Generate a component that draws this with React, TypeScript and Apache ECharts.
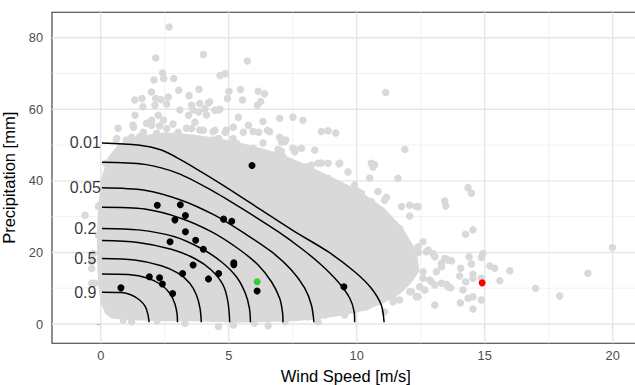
import React, { useEffect, useRef } from "react";
import * as echarts from "echarts";

// ---------- DATA ----------
const X_TICKS = [0, 5, 10, 15, 20];
const X_MINOR = [2.5, 7.5, 12.5, 17.5];
const Y_TICKS = [0, 20, 40, 60, 80];
const Y_MINOR = [10, 30, 50, 70];

// contour curves (wind speed, precipitation)
const curve1 = [[0.05,50.6],[1.46,50.0],[2.37,48.6],[3.15,45.8],[3.93,42.5],[4.97,37.9],[6.28,31.8],[7.58,25.8],[8.88,20.2],[9.92,14.6],[10.57,10.0],[10.96,5.3],[11.07,0.5]];
const curve2 = [[0.05,45.2],[1.72,44.6],[3.02,42.1],[4.32,37.4],[5.62,31.8],[6.93,25.8],[7.84,21.1],[8.62,16.5],[9.27,11.8],[9.73,7.2],[9.90,3.4],[9.92,0.5]];
const curve3 = [[0.05,38.1],[1.72,37.4],[3.15,34.6],[4.45,30.4],[5.62,25.3],[6.67,20.2],[7.45,15.1],[7.97,10.0],[8.23,5.3],[8.33,0.5]];
const curve4 = [[0.05,32.6],[1.72,32.1],[3.15,29.5],[4.32,25.8],[5.36,21.1],[6.15,16.5],[6.67,11.8],[6.99,7.2],[7.10,3.4],[7.12,0.5]];
const curve5 = [[0.05,26.7],[1.46,26.3],[2.89,24.4],[3.93,21.1],[4.71,17.4],[5.30,13.2],[5.65,8.6],[5.81,4.4],[5.85,0.5]];
const curve6 = [[0.05,23.3],[1.46,22.8],[2.76,20.9],[3.67,18.3],[4.32,15.1],[4.78,10.9],[4.97,6.2],[5.04,0.5]];
const curve7 = [[0.05,18.3],[1.33,17.9],[2.37,16.3],[3.02,14.2],[3.48,11.4],[3.74,8.1],[3.88,4.4],[3.93,0.5]];
const curve8 = [[0.05,13.95],[1.07,13.8],[1.85,12.8],[2.37,10.9],[2.70,8.6],[2.89,5.8],[2.98,3.0],[3.0,0.5]];
const curve9 = [[0.05,8.9],[0.81,8.8],[1.2,8.1],[1.52,6.7],[1.75,4.8],[1.85,2.5],[1.89,0.5]];
const curves = [curve1, curve2, curve3, curve4, curve5, curve6, curve7, curve8, curve9];

const levelLabels = ["0.01", "0.05", "0.2", "0.5", "0.9"];
const levelLabelY = [50.6, 38.1, 26.7, 18.3, 8.85];
const levelLabelX = -0.6;

// outline of the solid, fully overlapped part of the grey cloud
const denseOutline = [
  [0.5,2.5],[1.5,2.0],[2.5,1.8],[3.5,1.8],[4.5,1.6],[5.5,1.5],[6.5,1.6],[7.5,1.8],[8.5,2.4],[9.5,3.5],[10.3,4.8],[11.0,6.8],[11.6,9.2],[12.0,12],
  [12.3,15],[12.2,20],[11.7,26],[11.0,31.5],[10.0,36.5],
  [9.0,40],[8.0,43.5],[7.0,46.5],[6.3,48],[5.5,49.5],[4.5,51],[3.5,52],[2.5,52.5],[1.5,51.5],[0.8,49.5],[0.4,46],
  [0.15,40],[0.05,33],[0.0,25],[0.0,18],[0.05,11],[0.15,6],[0.3,3.5]
];

// individual grey observations around the dense cloud
const greyPoints = [
  [2.67,83.0],[2.15,74.3],[4.01,75.3],[5.73,73.5],
  [2.42,70.1],[2.46,68.6],[2.08,68.2],[2.85,68.6],[4.66,69.4],[4.86,69.9],
  [3.05,65.3],[3.84,65.6],[5.01,65.0],[5.46,65.5],[6.15,65.0],[6.40,64.3],[11.13,64.7],
  [1.98,64.8],[1.61,63.0],[2.15,63.0],[2.35,62.7],[2.64,63.4],[1.33,62.6],[1.65,60.7],[3.45,63.8],[3.87,61.6],[4.26,62.1],[4.21,61.8],[4.61,59.8],[4.95,63.0],[5.54,62.6],[6.25,62.2],[6.12,61.1],
  [2.12,61.1],[2.58,61.5],[3.55,61.1],[4.07,60.1],[4.46,59.7],[4.66,60.0],
  [1.34,58.3],[1.99,56.9],[2.25,58.3],[2.45,56.9],[3.43,58.3],[3.82,59.2],[3.68,56.4],[3.09,59.8],[3.61,59.8],[4.13,58.4],[5.38,57.8],[6.34,56.6],[6.99,57.5],[7.51,57.8],[7.9,56.9],
  [1.28,55.0],[1.67,53.6],[1.99,55.5],[2.58,54.6],[3.03,53.6],[3.55,54.6],[4.01,54.1],[4.46,54.1],[4.86,53.6],[5.18,55.0],[5.57,53.6],[5.77,55.5],[0.68,54.7],[1.26,55.6],[1.79,56.1],[2.3,55.3],[2.82,55.9],[3.35,54.7],[3.87,54.2],[4.39,53.7],[4.91,54.2],
  [5.95,53.8],[6.17,53.6],[6.51,54.1],[8.62,53.8],[8.88,54.0],[9.18,53.4],
  [0.63,51.8],[1.21,52.2],[1.99,51.3],[3.03,51.3],[3.82,50.8],[4.6,51.8],[5.31,50.4],[1.0,51.4],[1.52,52.3],[2.18,53.3],[2.96,52.8],[3.61,51.8],[4.39,51.4],[5.17,51.8],
  [6.99,52.2],[7.19,51.0],[6.34,50.6],[6.6,53.7],[7.23,51.4],[7.06,50.9],
  [6.93,48.8],[7.06,48.2],[7.58,48.8],[6.93,47.1],[7.32,45.4],[6.08,48.2],[6.21,46.9],[5.89,46.2],[5.43,48.1],[5.95,49.1],[7.51,49.1],[7.84,49.1],[8.36,48.6],[7.58,48.1],[6.8,47.2],[7.12,46.7],
  [11.88,48.8],[10.70,44.5],[10.64,43.9],[8.62,45.0],[9.31,44.8],[8.16,44.0],[8.29,42.3],[7.51,43.9],[7.25,42.9],[7.38,41.5],[8.04,43.9],[8.49,44.9],[8.23,44.4],[8.88,44.9],[9.34,44.9],[9.66,42.5],[10.57,44.9],[7.58,43.5],
  [10.51,40.8],[11.61,40.7],[7.97,40.6],[8.23,40.6],[8.75,40.1],[8.88,40.7],[8.23,39.8],[9.92,38.8],[9.6,37.6],[9.53,37.9],[10.05,37.0],[10.83,37.0],[10.18,36.5],[8.62,36.5],[9.14,35.1],[11.09,34.6],
  [14.35,38.1],[14.48,36.5],[13.44,34.4],[13.48,33.0],[11.16,35.4],[10.57,34.2],[11.75,32.8],[12.07,33.2],[12.33,32.8],[12.07,30.2],[12.4,32.8],
  [10.44,29.5],[10.96,28.6],[11.48,27.7],[11.68,26.7],
  [14.54,26.3],[14.25,25.1],[12.59,23.0],[12.98,19.7],[12.42,20.0],[12.79,20.7],[11.88,23.0],[12.4,21.6],[12.72,20.2],[13.05,18.8],[13.31,17.0],
  [13.44,18.3],[13.70,17.7],[13.57,17.9],[14.39,18.8],[14.93,19.7],[14.87,18.6],[14.48,16.8],[14.06,15.6],[15.2,16.2],[15.39,15.6],[15.98,14.9],[13.31,16.0],
  [14.02,13.4],[14.26,11.8],[14.54,12.8],[14.54,13.9],[15.59,12.1],[16.99,10.0],[19.03,14.2],[17.93,7.8],[19.99,21.4],[14.87,12.8],
  [14.15,9.5],[14.87,6.7],[14.05,5.9],[14.35,7.2],[14.54,7.6],[14.54,4.2],[13.05,5.3],[13.57,10.4],[13.31,11.4],[13.05,10.9],[13.5,11.1],[13.67,10.1],[12.59,12.8],[12.85,12.3],[12.46,10.4],[12.33,7.6],[12.07,9.0],[11.68,6.7],[11.29,8.6],[11.09,3.4],[11.42,6.2],
  [12.14,16.5],[12.59,14.6],[12.92,11.8],[13.11,14.6],[11.22,12.3],[11.75,10.9],[12.14,9.0],[12.4,7.6],[12.66,9.5],[11.36,8.6],[11.48,6.7],
  [8.75,2.5],[9.01,4.4],[8.49,0.6],[8.1,2.0],[9.53,2.5],[9.92,3.9],[10.38,4.8],[10.70,6.2],[6.54,-0.5],
  [-0.61,30.4],[-0.35,11.4],[-0.09,24.9],[-0.04,33.2],[-0.36,17.4],[-0.23,11.4],[-0.09,32.8],[-0.29,19.7],[-0.35,15.5],[0.61,51.4],[0.2,44.9],
  [0.56,3.9],[0.88,1.1],[1.21,0.6],[3.29,0.2],[4.6,-0.7],[5.18,-0.3],[2.2,0.9],[6.0,0.3],[7.2,0.6]
];

const blackPoints = [
  [0.79,10.1],[1.90,13.2],[2.30,12.9],[2.41,11.2],[2.81,8.5],[2.21,33.2],[3.11,33.3],[2.90,29.1],[3.31,30.3],[3.31,25.8],
  [2.71,23.0],[3.71,23.4],[4.01,20.9],[3.61,16.5],[3.20,14.1],[4.21,12.6],[4.61,14.1],[4.80,29.3],[5.12,28.7],[5.20,17.1],
  [5.20,16.6],[6.11,9.2],[9.50,10.4],[5.91,44.3]
];
const greenPoints = [[6.11,11.8]];
const redPoints = [[14.9,11.5]];

// ---------- STYLE ----------
const GREY = "#d9d9d9";
const FONT = "Liberation Sans, Arial, Helvetica, sans-serif";

export default function App() {
  const ref = useRef<HTMLDivElement>(null);
  useEffect(() => {
    document.body.style.margin = "0";
    if (!ref.current) return;
    const chart = echarts.init(ref.current, null, { renderer: "svg" });

    // gridline items: [value, orientation (0 vertical, 1 horizontal), major flag]
    const gridItems: number[][] = [];
    X_TICKS.forEach((v) => gridItems.push([v, 0, 1]));
    X_MINOR.forEach((v) => gridItems.push([v, 0, 0]));
    Y_TICKS.forEach((v) => gridItems.push([v, 1, 1]));
    Y_MINOR.forEach((v) => gridItems.push([v, 1, 0]));

    const series: any[] = [
      {
        type: "custom",
        z: 9,
        data: gridItems,
        renderItem: (params: any, api: any) => {
          const cs = params.coordSys;
          const v = api.value(0);
          const o = api.value(1);
          const major = api.value(2) === 1;
          let shape;
          if (o === 0) {
            const px = api.coord([v, 0])[0];
            shape = { x1: px, y1: cs.y, x2: px, y2: cs.y + cs.height };
          } else {
            const py = api.coord([0, v])[1];
            shape = { x1: cs.x, y1: py, x2: cs.x + cs.width, y2: py };
          }
          return {
            type: "line",
            shape,
            style: { stroke: major ? "#e6e6e6" : "#ededed", lineWidth: major ? 1.4 : 0.8 },
          };
        },
      },
      {
        type: "custom",
        z: 10,
        silent: true,
        data: [[0, 0]],
        renderItem: (_p: any, api: any) => ({
          type: "polygon",
          shape: { points: denseOutline.map((p) => api.coord(p)) },
          style: { fill: GREY, stroke: GREY, lineWidth: 7.5, lineJoin: "round" },
        }),
      },
      {
        type: "scatter",
        z: 11,
        silent: true,
        data: greyPoints,
        symbolSize: 7.5,
        itemStyle: { color: GREY, opacity: 1 },
      },
    ];
    curves.forEach((c) =>
      series.push({
        type: "line",
        z: 12,
        silent: true,
        data: c,
        showSymbol: false,
        smooth: 0.3,
        lineStyle: { color: "#000", width: 1.5 },
      })
    );
    series.push(
      { type: "scatter", z: 13, silent: true, data: blackPoints, symbolSize: 7, itemStyle: { color: "#000", opacity: 1 } },
      { type: "scatter", z: 13, silent: true, data: greenPoints, symbolSize: 7, itemStyle: { color: "#32cd32", opacity: 1 } },
      { type: "scatter", z: 13, silent: true, data: redPoints, symbolSize: 7, itemStyle: { color: "#ff0000", opacity: 1 } },
      {
        type: "scatter",
        z: 14,
        silent: true,
        symbolSize: 1,
        itemStyle: { color: "rgba(0,0,0,0)" },
        data: levelLabels.map((l, i) => ({ name: l, value: [levelLabelX, levelLabelY[i]] })),
        label: { show: true, position: "inside", formatter: "{b}", fontSize: 16, color: "#000", fontFamily: FONT },
      }
    );

    const tickLabel = { color: "#4d4d4d", fontSize: 12.8, fontFamily: FONT };
    chart.setOption({
      animation: false,
      grid: {
        left: 52,
        top: 12.3,
        width: 587.6,
        height: 331,
        containLabel: false,
        outerBoundsMode: "none",
        show: true,
        borderColor: "#333333",
        borderWidth: 1.1,
        backgroundColor: "transparent",
      },
      xAxis: {
        type: "value",
        min: -1.902,
        max: 21.05,
        splitLine: { show: false },
        axisLine: { show: false },
        axisTick: { show: true, customValues: X_TICKS, length: 4, lineStyle: { color: "#333333", width: 1.1 } },
        axisLabel: { customValues: X_TICKS, margin: 6, ...tickLabel },
        name: "Wind Speed [m/s]",
        nameLocation: "middle",
        nameGap: 21,
        nameTextStyle: { color: "#000", fontSize: 16.5, fontFamily: FONT },
      },
      yAxis: {
        type: "value",
        min: -5.39,
        max: 87.09,
        splitLine: { show: false },
        axisLine: { show: false },
        axisTick: { show: true, customValues: Y_TICKS, length: 4, lineStyle: { color: "#333333", width: 1.1 } },
        axisLabel: { customValues: Y_TICKS, margin: 9, ...tickLabel },
        name: "Precipitation [mm]",
        nameLocation: "middle",
        nameRotate: 90,
        nameGap: 18,
        nameTextStyle: { color: "#000", fontSize: 16.5, fontFamily: FONT },
      },
      series,
    });
    return () => chart.dispose();
  }, []);

  return (
    <div
      ref={ref}
      style={{ position: "fixed", left: 0, top: 0, width: 635, height: 385, background: "#fff" }}
    />
  );
}
